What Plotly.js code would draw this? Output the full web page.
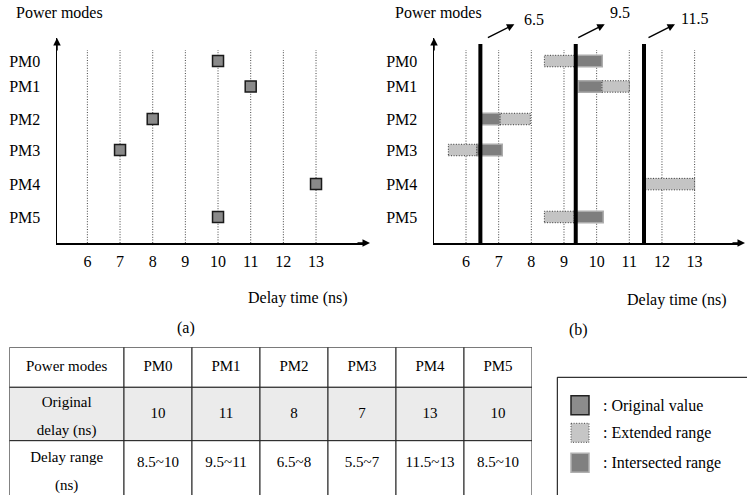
<!DOCTYPE html>
<html><head><meta charset="utf-8">
<script src="https://cdn.plot.ly/plotly-3.0.1.min.js"></script>
<style>html,body{margin:0;padding:0;background:#fff}#chart{width:747px;height:495px}</style>
</head><body><div id="chart"></div>
<script>
// ---------- data ----------
const modes = ['PM0','PM1','PM2','PM3','PM4','PM5'];
const originalDelay = [10, 11, 8, 7, 13, 10];
const delayRangeText = ['8.5~10','9.5~11','6.5~8','5.5~7','11.5~13','8.5~10'];
const xTicks = [6,7,8,9,10,11,12,13];
// panel (b) segments, as drawn
const extStart = [8.40, 10.16, 7.04, 5.46, 11.49, 8.40];
const extEnd   = [9.36, 11.00, 7.97, 6.33, 13.00, 9.31];
const intStart = [9.36, 9.44, 6.43, 6.33, null, 9.31];
const intEnd   = [10.17, 10.16, 7.04, 7.11, null, 10.20];
const cutValues = [6.44, 9.36, 11.45];
const cutLabels = ['6.5','9.5','11.5'];
const tableHeader = ['Power modes'].concat(modes);
const rowNames = [['Original','delay (ns)'], ['Delay range','(ns)']];
const legendLabels = [': Original value', ': Extended range', ': Intersected range'];

// ---------- layout helpers ----------
const W = 747, H = 495;
const FONT = '"Liberation Serif", "Times New Roman", Times, serif';
const px = v => v / W, py = v => 1 - v / H;
const rowY = [5.87, 5.05, 4.0, 3.0, 1.9, 0.84];   // row positions (1 unit = 31px)
const yTop = 6.613, gridTop = 6.226, cutTop = 6.42, barH = 0.37;
const arrowHeadDx = [34, 29, 31], labelDx = [42, 32, 35], labelPy = [19, 13, 18];
const DOT = '1px,1.6px';
// table geometry (px units inside table axes)
const colW = [114.7, 68, 68, 68, 68, 68, 68];
const rowTop = [0, 40, 93.4], rowH = [40, 53.4, 70];
const singleOff = [20, 26.7, 22.6], firstLineOff = [20, 16.2, 17.6], lineGap = 27.5;
const rowFill = ['#ffffff', '#ebebeb', '#ffffff'];

function xAxis(d0, d1, r0, r1, anchor) {
  return {domain:[px(d0), px(d1)], range:[r0, r1], anchor:anchor,
    showgrid:false, zeroline:false, showline:true, linecolor:'#000', linewidth:1.5,
    tickvals:xTicks, ticks:'outside', ticklen:3, tickcolor:'rgba(0,0,0,0)',
    tickfont:{family:FONT, size:16, color:'#000'}, fixedrange:true};
}
function yAxis(anchor) {
  return {domain:[py(243), py(38)], range:[0, yTop], anchor:anchor,
    showgrid:false, zeroline:false, showline:true, linecolor:'#000', linewidth:1.5,
    tickvals:rowY, ticktext:modes, ticks:'outside', ticklen:12, tickcolor:'rgba(0,0,0,0)',
    tickfont:{family:FONT, size:16, color:'#000'}, fixedrange:true};
}

const traces = [];
// panel (a) squares
traces.push({type:'scatter', mode:'markers', xaxis:'x', yaxis:'y',
  x: originalDelay, y: rowY,
  marker:{symbol:'square', size:11, color:'#8a8a8a', line:{color:'#1a1a1a', width:1.5}},
  hoverinfo:'skip'});
// panel (b) extended bars
traces.push({type:'bar', orientation:'h', xaxis:'x2', yaxis:'y2',
  y: rowY, base: extStart, x: extEnd.map((e,i)=>e-extStart[i]), width: barH,
  marker:{color:'#c4c4c4', line:{width:0}}, hoverinfo:'skip'});
// dotted outline of extended bars
const ox = [], oy = [];
extStart.forEach((s,i)=>{
  const e = extEnd[i], lo = rowY[i]-barH/2, hi = rowY[i]+barH/2;
  ox.push(s,e,e,s,s,null); oy.push(lo,lo,hi,hi,lo,null);
});
traces.push({type:'scatter', mode:'lines', xaxis:'x2', yaxis:'y2', x:ox, y:oy,
  line:{color:'#333', width:1, dash:DOT}, hoverinfo:'skip'});
// intersected bars
traces.push({type:'bar', orientation:'h', xaxis:'x2', yaxis:'y2',
  y: rowY, base: intStart, x: intEnd.map((e,i)=> e==null?null:e-intStart[i]), width: barH,
  marker:{color:'#7e7e7e', line:{color:'#ababab', width:1.5}}, hoverinfo:'skip'});

// table: columns / rows on hidden axes x3,y3
const colL = []; colW.reduce((a,w)=>{colL.push(a); return a+w;}, 0);
const tableW = colW.reduce((a,b)=>a+b,0);
const tableRows = [tableHeader,
  [rowNames[0]].concat(originalDelay.map(String)),
  [rowNames[1]].concat(delayRangeText)];
const tx = [], ty = [], tt = [];
const shapes = [];
tableRows.forEach((row, r)=>{
  row.forEach((val, c)=>{
    shapes.push({type:'rect', xref:'x3', yref:'y3', x0:colL[c], x1:colL[c]+colW[c],
      y0:rowTop[r], y1:rowTop[r]+rowH[r], fillcolor:rowFill[r], line:{color:'#222', width:1}, layer:'below'});
    const cx = colL[c] + colW[c]/2;
    if (Array.isArray(val)) {
      val.forEach((line, k)=>{ tx.push(cx); ty.push(rowTop[r]+firstLineOff[r]+k*lineGap); tt.push(line); });
    } else { tx.push(cx); ty.push(rowTop[r]+singleOff[r]); tt.push(val); }
  });
});
traces.push({type:'scatter', mode:'text', xaxis:'x3', yaxis:'y3', x:tx, y:ty, text:tt,
  textposition:'middle center', textfont:{family:FONT, size:15, color:'#000'},
  hoverinfo:'skip', cliponaxis:false});

[['x','y'],['x2','y2']].forEach(([xr,yr])=>{
  xTicks.forEach(t=>shapes.push({type:'line', xref:xr, yref:yr, x0:t, x1:t, y0:0, y1:gridTop,
    line:{color:'#444', width:1, dash:DOT}, layer:'below'}));
});
cutValues.forEach(c=>shapes.push({type:'line', xref:'x2', yref:'y2', x0:c, x1:c, y0:0, y1:cutTop,
  line:{color:'#000', width:4}, layer:'above'}));
// legend box
shapes.push({type:'rect', xref:'paper', yref:'paper', x0:px(557.3), x1:px(770), y0:py(377.3), y1:py(520),
  line:{color:'#000', width:1}, fillcolor:'rgba(0,0,0,0)'});
const legTop = [395.7, 423.3, 453.3];
const legStyle = [
  {fillcolor:'#8c8c8c', line:{color:'#222', width:1.5}},
  {fillcolor:'#c6c6c6', line:{color:'#444', width:1, dash:DOT}},
  {fillcolor:'#808080', line:{color:'#b0b0b0', width:1.5}}];
legTop.forEach((t,i)=>shapes.push(Object.assign({type:'rect', xref:'paper', yref:'paper',
  x0:px(571), x1:px(589), y0:py(t), y1:py(t+19)}, legStyle[i])));

const ann = [];
const txt = (text, x, y, xanchor, size) => ({text, x:px(x), y:py(y), xref:'paper', yref:'paper',
  showarrow:false, xanchor:xanchor||'center', yanchor:'middle',
  font:{family:FONT, size:size||16, color:'#000'}});
ann.push(txt('Power modes', 59, 13), txt('Power modes', 438, 13));
ann.push(txt('Delay time (ns)', 298, 298), txt('Delay time (ns)', 677, 300));
ann.push(txt('(a)', 186, 328), txt('(b)', 578, 330));
legendLabels.forEach((l,i)=>ann.push(txt(l, 601, legTop[i]+10, 'left', 16)));
// axis arrows
const arrow = (x, y, ax, ay) => ({x:px(x), y:py(y), xref:'paper', yref:'paper', text:'',
  showarrow:true, ax:ax, ay:ay, axref:'pixel', ayref:'pixel', arrowhead:2, arrowsize:1,
  arrowwidth:1.5, arrowcolor:'#000', standoff:0});
ann.push(arrow(370, 243, -14, 0), arrow(57, 38, 0, 14), arrow(745, 243, -14, 0), arrow(434, 38, 0, 14));
// cut arrows & labels
cutValues.forEach((c,i)=>{
  ann.push({x:c, xref:'x2', y:py(24.3), yref:'paper', xshift:arrowHeadDx[i], text:'',
    showarrow:true, ax:-28, ay:14, arrowhead:2, arrowsize:1, arrowwidth:1.5, arrowcolor:'#000', standoff:0});
  ann.push({x:c, xref:'x2', y:py(labelPy[i]), yref:'paper', xshift:labelDx[i], text:cutLabels[i],
    showarrow:false, xanchor:'left', yanchor:'middle', font:{family:FONT, size:16, color:'#000'}});
});

const hidden = {visible:false, showgrid:false, zeroline:false, fixedrange:true};
const layout = {
  width:W, height:H, margin:{l:0,r:0,t:0,b:0}, showlegend:false,
  paper_bgcolor:'#fff', plot_bgcolor:'rgba(0,0,0,0)', barmode:'overlay',
  font:{family:FONT, size:16, color:'#000'},
  xaxis: xAxis(57, 366, 5.07, 14.53, 'y'), yaxis: yAxis('x'),
  xaxis2: xAxis(434, 741, 5.02, 14.42, 'y2'), yaxis2: yAxis('x2'),
  xaxis3: Object.assign({domain:[px(9.3), px(9.3+tableW)], range:[0, tableW], anchor:'y3'}, hidden),
  yaxis3: Object.assign({domain:[0, py(347.3)], range:[495-347.3, 0], anchor:'x3'}, hidden),
  shapes: shapes, annotations: ann
};
Plotly.newPlot('chart', traces, layout, {displayModeBar:false, staticPlot:true});
</script></body></html>
